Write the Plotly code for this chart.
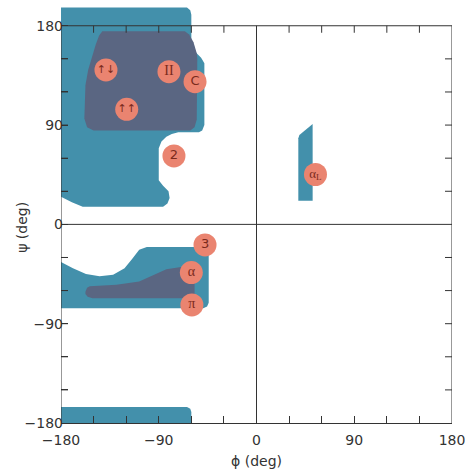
import plotly.graph_objects as go

# ---- region outlines (phi, psi in degrees) ----
beta_light_phi = [-180, -64, -61, -60, -60, -56, -51, -48, -48, -50, -53, -72, -78, -83, -87.5, -90, -90, -86, -81, -80, -82, -86, -160, -170, -180]
beta_light_psi = [196.5, 196.5, 194, 190, 161, 156, 151, 146, 90, 85, 83.5, 83.5, 82, 79.5, 75, 69, 40, 35, 30, 24, 19, 16, 16, 20, 25]

beta_dark_phi = [-142, -66, -62, -58, -55, -54.5, -55, -57, -61, -150, -156, -158.5, -157.5, -155, -148, -145]
beta_dark_psi = [175, 175, 172, 165, 155, 150, 95, 88, 85, 85, 88, 96, 126, 140, 163, 171]

alpha_light_phi = [-180, -169, -157, -144.5, -132, -121.5, -114, -108, -101, -49, -45, -44, -44, -45.5, -49, -180]
alpha_light_psi = [-34, -39.7, -45, -47, -45.7, -39.7, -30.6, -23, -20.5, -20.5, -22, -26, -71, -74.5, -76, -76]

alpha_dark_phi = [-157.5, -156, -153.5, -129, -108, -92, -83, -71, -61, -58, -57, -57, -59, -62, -151, -155.5, -157.5]
alpha_dark_psi = [-61, -57.5, -56, -54.8, -51.8, -44.2, -40.6, -38.8, -38.5, -40, -44, -64, -66.5, -67, -67, -65.5, -63]

bottom_light_phi = [-180, -180, -64, -61, -60, -60]
bottom_light_psi = [-180, -165.5, -165.5, -167, -170, -180]

alphaL_phi = [38.5, 38.5, 39.5, 51.7, 51.7]
alphaL_psi = [21.5, 78, 81, 91, 21.5]

# ---- labelled conformations ----
conf_labels = ["↑↓", "II", "C", "↑↑", "2", "3", "α", "π", "α<sub>L</sub>"]
conf_phi = [-138.6, -80.6, -56.6, -119.5, -76, -47.4, -60, -59.5, 54.3]
conf_psi = [140, 138.4, 129.3, 104.3, 62, -18.6, -43.7, -73, 45.2]
conf_fonts = ["DejaVu Sans", "Liberation Serif", "DejaVu Sans", "DejaVu Sans", "DejaVu Sans",
              "DejaVu Sans", "Liberation Serif", "Liberation Serif", "Liberation Serif"]
conf_sizes = [11, 14, 13, 11, 13, 13, 14, 14, 13]

# ---- ticks ----
tick_vals = [-180, -150, -120, -90, -60, -30, 0, 30, 60, 90, 120, 150, 180]
tick_text = ["−180", "", "", "−90", "", "", "0", "", "", "90", "", "", "180"]
mirror_ticks = [-150, -120, -90, -60, -30, 30, 60, 90, 120, 150]

LIGHT = "#4390ab"
DARK = "#5a6682"
CIRCLE = "#ea8470"
TXT = "#7a2a1c"
INK = "#333333"
FONT = "DejaVu Sans"

fig = go.Figure()

def region(xs, ys, color):
    fig.add_trace(go.Scatter(x=xs, y=ys, mode="lines", fill="toself", fillcolor=color,
                             line=dict(width=0, color=color), hoverinfo="skip", showlegend=False))

region(beta_light_phi, beta_light_psi, LIGHT)
region(alpha_light_phi, alpha_light_psi, LIGHT)
region(bottom_light_phi, bottom_light_psi, LIGHT)
region(alphaL_phi, alphaL_psi, LIGHT)
region(beta_dark_phi, beta_dark_psi, DARK)
region(alpha_dark_phi, alpha_dark_psi, DARK)

fig.add_trace(go.Scatter(
    x=conf_phi, y=conf_psi, mode="markers+text", text=conf_labels,
    textposition="middle center",
    textfont=dict(family=conf_fonts, size=conf_sizes, color=TXT),
    marker=dict(size=23, color=CIRCLE, line=dict(width=0)),
    hoverinfo="skip", showlegend=False, cliponaxis=False))

shapes = []
line = dict(color=INK, width=1)
# frame and zero lines
shapes.append(dict(type="line", xref="x", yref="y", x0=-180, x1=180, y0=180, y1=180, line=line))
shapes.append(dict(type="line", xref="x", yref="y", x0=-180, x1=-180, y0=-180, y1=180, line=line))
shapes.append(dict(type="line", xref="x", yref="y", x0=180, x1=180, y0=-180, y1=180, line=line))
shapes.append(dict(type="line", xref="x", yref="y", x0=0, x1=0, y0=-180, y1=180, line=line))
shapes.append(dict(type="line", xref="x", yref="y", x0=-180, x1=180, y0=0, y1=0, line=line))
# mirrored ticks on top and right edges, and left-edge ticks
for v in mirror_ticks:
    shapes.append(dict(type="line", xref="x", yref="y", x0=v, x1=v, ysizemode="pixel", yanchor=180,
                       y0=0, y1=-7, line=line))
    shapes.append(dict(type="line", xref="x", yref="y", y0=v, y1=v, xsizemode="pixel", xanchor=180,
                       x0=0, x1=-7, line=line))
    shapes.append(dict(type="line", xref="x", yref="y", y0=v, y1=v, xsizemode="pixel", xanchor=-180,
                       x0=0, x1=7, line=line))

fig.update_layout(
    width=465, height=469,
    margin=dict(l=61, r=13, t=7, b=46),
    paper_bgcolor="white", plot_bgcolor="white",
    font=dict(family=FONT, size=14, color=INK),
    shapes=shapes,
    xaxis=dict(range=[-180, 180], tickvals=tick_vals, ticktext=tick_text, ticks="inside", ticklen=7,
               tickcolor=INK, showline=True, linecolor=INK, linewidth=1, showgrid=False, zeroline=False,
               ticklabeloverflow="allow", automargin=False, ticklabelstandoff=4,
               title=dict(text="ϕ (deg)", standoff=9, font=dict(size=14))),
    yaxis=dict(range=[-180, 197], tickvals=tick_vals, ticktext=tick_text, ticks="inside", ticklen=7,
               tickcolor=INK, showline=False, showgrid=False, zeroline=False, ticklabelstandoff=-3,
               ticklabeloverflow="allow", automargin=False),
    annotations=[dict(text="ψ (deg)", xref="paper", yref="y", x=-0.125, y=-3, textangle=-90,
                      showarrow=False, font=dict(size=14, color=INK))],
)

fig.write_html("out.html", config={"displayModeBar": False},
               post_script="document.body.style.margin='0';document.body.style.overflow='hidden';")
